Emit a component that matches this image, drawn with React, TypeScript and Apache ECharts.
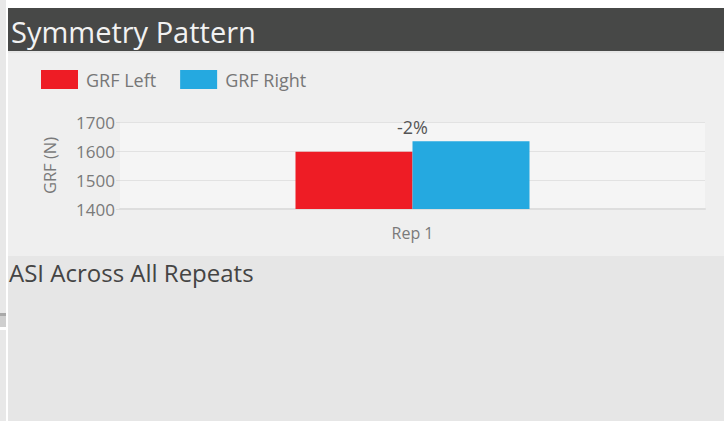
import React, { useEffect, useRef } from "react";
import * as echarts from "echarts";

const categories = ["Rep 1"];
const grfLeft = [1597];
const grfRight = [1634];
const yTicks = [1400, 1500, 1600, 1700];
const seriesNames = ["GRF Left", "GRF Right"];
const colors = ["#ee1c25", "#25a9e0"];

const FONT = "'Open Sans', 'Noto Sans', sans-serif";

export default function App() {
  const ref = useRef<HTMLDivElement>(null);
  useEffect(() => {
    if (!ref.current) return;
    const chart = echarts.init(ref.current, null, { renderer: "svg", width: 724, height: 421 });
    const asi = grfLeft.map((l, i) => {
      const r = grfRight[i];
      return Math.round(((l - r) / ((l + r) / 2)) * 100);
    });
    chart.setOption({
      animation: false,
      backgroundColor: "#ffffff",
      textStyle: { fontFamily: FONT },
      graphic: [
        { type: "rect", shape: { x: 0, y: 0, width: 6, height: 421 }, style: { fill: "#e8e8e8" }, z: -10 },
        { type: "rect", shape: { x: 0, y: 313, width: 6, height: 3 }, style: { fill: "#a9a9a9" }, z: -9 },
        { type: "rect", shape: { x: 0, y: 316, width: 6, height: 11 }, style: { fill: "#cfcfcf" }, z: -9 },
        { type: "rect", shape: { x: 0, y: 327, width: 6, height: 3 }, style: { fill: "#ffffff" }, z: -9 },
        { type: "rect", shape: { x: 8, y: 8, width: 716, height: 43 }, style: { fill: "#474847" }, z: -10 },
        { type: "rect", shape: { x: 8, y: 51, width: 716, height: 205 }, style: { fill: "#efefef" }, z: -10 },
        { type: "rect", shape: { x: 8, y: 51, width: 716, height: 2 }, style: { fill: "#e6e6e6" }, z: -9 },
        { type: "rect", shape: { x: 8, y: 256, width: 716, height: 165 }, style: { fill: "#e6e6e6" }, z: -10 },
        {
          type: "text",
          x: 11,
          y: 31,
          style: { text: "Symmetry Pattern", fill: "#f2f2f2", font: `29px ${FONT}`, textVerticalAlign: "middle" },
        },
        {
          type: "text",
          x: 9,
          y: 272,
          style: { text: "ASI Across All Repeats", fill: "#444444", font: `24px ${FONT}`, textVerticalAlign: "middle" },
        },
      ],
      legend: {
        left: 41,
        top: 70,
        padding: 0,
        itemWidth: 37,
        itemHeight: 19,
        itemGap: 24,
        icon: "rect",
        textStyle: { fontSize: 18, color: "#777777", fontFamily: FONT, padding: [0, 0, 0, 3] },
        data: seriesNames,
      },
      grid: {
        left: 120,
        right: 19,
        top: 122,
        bottom: 212,
        show: true,
        backgroundColor: "#f5f5f5",
        borderWidth: 0,
      },
      xAxis: {
        type: "category",
        data: categories,
        axisLine: { lineStyle: { color: "#dedede", width: 2 } },
        axisTick: { show: false },
        axisLabel: { fontSize: 16, color: "#7a7a7a", margin: 16, fontFamily: FONT },
      },
      yAxis: {
        type: "value",
        min: yTicks[0],
        max: yTicks[yTicks.length - 1],
        interval: 100,
        name: "GRF (N)",
        nameLocation: "middle",
        nameGap: 62,
        nameTextStyle: { fontSize: 16.5, color: "#7a7a7a", fontFamily: FONT },
        axisLine: { show: false },
        axisTick: { show: true, length: 4, lineStyle: { color: "#dddddd" } },
        axisLabel: { fontSize: 17, color: "#7a7a7a", margin: 5, fontFamily: FONT, formatter: (v: number) => String(v) },
        splitLine: { lineStyle: { color: "#e2e2e2", width: 1 } },
      },
      series: [
        {
          name: seriesNames[0],
          type: "bar",
          data: grfLeft,
          barWidth: "20%",
          barGap: "0%",
          itemStyle: { color: colors[0] },
        },
        {
          name: seriesNames[1],
          type: "bar",
          data: grfRight,
          barWidth: "20%",
          itemStyle: { color: colors[1] },
          label: {
            show: true,
            position: "top",
            distance: 5,
            offset: [-58.5, 0],
            fontSize: 18,
            color: "#555555",
            fontFamily: FONT,
            formatter: (p: any) => `${asi[p.dataIndex]}%`,
          },
        },
      ],
    });
    return () => chart.dispose();
  }, []);
  return (
    <div
      ref={ref}
      style={{ position: "fixed", left: 0, top: 0, width: 724, height: 421 }}
    />
  );
}
